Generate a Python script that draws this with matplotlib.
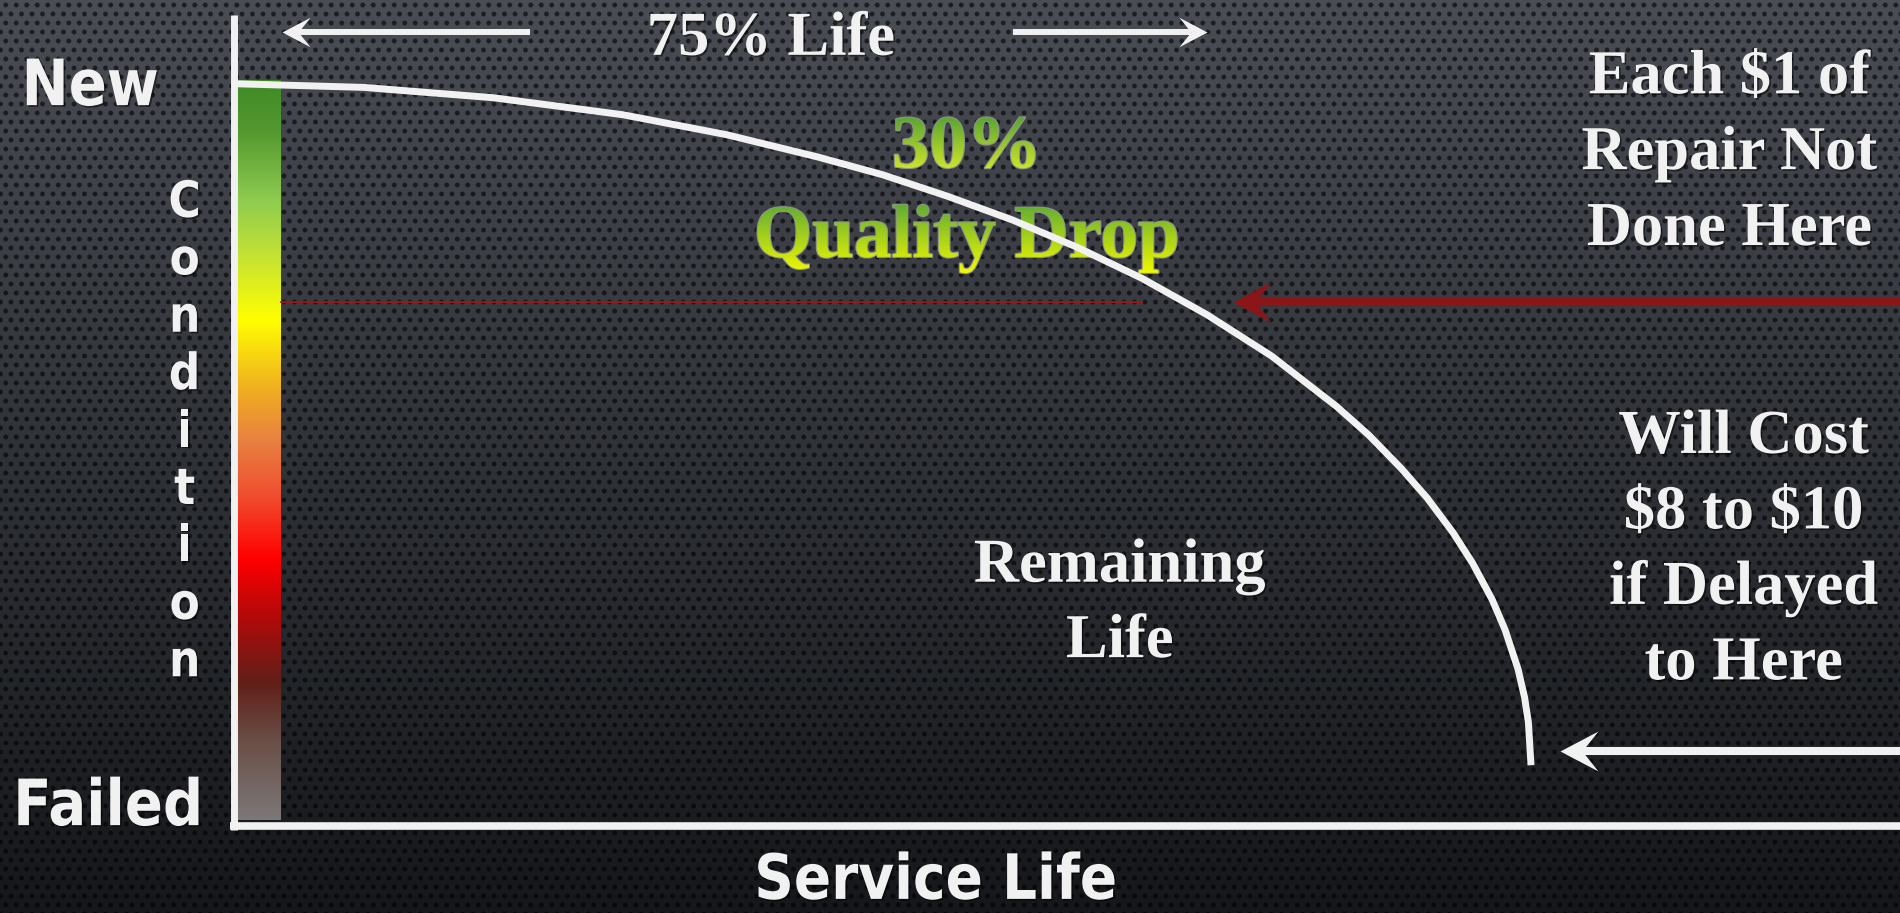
import numpy as np
import matplotlib
matplotlib.use("Agg")
import matplotlib.pyplot as plt
from matplotlib import patheffects
from matplotlib.path import Path
from matplotlib.transforms import Affine2D, TransformedPath
from matplotlib.colors import LinearSegmentedColormap, to_rgb

# Datos (vida en %, condición en %)
life = [0, 10, 20, 30, 38, 45, 50, 55, 60, 65, 70, 75, 80, 85, 87.5, 90, 92, 94,
        95.5, 97, 98, 99, 99.5, 99.8, 100]
cond = [99.5, 99.0, 97.6, 95.3, 92.6, 89.6, 87.2, 84.3, 81.1, 77.4, 73.2, 68.3,
        62.7, 55.9, 52.0, 47.5, 43.5, 38.8, 34.7, 29.8, 25.7, 20.4, 16.6, 13.2, 7.4]

life_mark = 75          # 75% Life
level_mark = 70         # 30% de caída -> condición 70
guide_end = 70          # fin de la línea fina roja
red_tip = 77            # punta de la flecha roja
late_tip = 102.2        # punta de la flecha blanca de abajo
late_level = 9.3
top_arrow_y = 106.5
top_left = (22.8, 3.7)  # (cola, punta)
top_right = (60.1, life_mark)

bar_x = (0.23, 3.62)
bar_y = (0, 100)
bar_stops = [(0.000, '#7c7878'), (0.103, '#6a5048'), (0.184, '#602018'),
             (0.272, '#b00a0a'), (0.353, '#ff0000'), (0.441, '#f05030'),
             (0.512, '#e88040'), (0.585, '#f0b020'), (0.677, '#ffff00'),
             (0.757, '#c8e430'), (0.838, '#8fcc50'), (0.928, '#569a30'),
             (1.000, '#3f8a26')]

right_top = [r"Each \$1 of", "Repair Not", "Done Here"]
right_bottom = ["Will Cost", r"\$8 to \$10", "if Delayed", "to Here"]
remaining = ["Remaining", "Life"]

XLIM = (-18.04, 128.45)
YLIM = (-12.57, 110.81)
WHITE = '#f1f1f1'
RED = '#8c1518'
SANS = 'DejaVu Sans'
SERIF = 'Liberation Serif'


class Squeeze(patheffects.AbstractPathEffect):
    """Estrecha el texto horizontalmente (con sombra opcional)."""
    def __init__(self, sx, offset=(0, 0), color=None, alpha=None):
        super().__init__(offset)
        self.sx = sx
        self.color = color
        self.alpha = alpha

    def draw_path(self, renderer, gc, tpath, affine, rgbFace=None):
        ext = tpath.get_extents(affine)
        cx = (ext.x0 + ext.x1) / 2
        aff = affine + Affine2D().translate(-cx, 0).scale(self.sx, 1).translate(cx, 0)
        aff = aff + self._offset_transform(renderer)
        gc0 = renderer.new_gc()
        gc0.copy_properties(gc)
        if self.color is not None:
            rgbFace = to_rgb(self.color)
        if self.alpha is not None:
            gc0.set_alpha(self.alpha)
        renderer.draw_path(gc0, tpath, aff, rgbFace)
        gc0.restore()


class GradientFill(patheffects.AbstractPathEffect):
    """Relleno degradado vertical, por línea de texto."""
    def __init__(self, top, bottom):
        super().__init__()
        self.top = np.array(to_rgb(top))
        self.bottom = np.array(to_rgb(bottom))

    def draw_path(self, renderer, gc, tpath, affine, rgbFace=None):
        ext = tpath.get_extents(affine)
        x0, y0 = int(np.floor(ext.x0)), int(np.floor(ext.y0))
        w = int(np.ceil(ext.x1)) - x0 + 1
        h = int(np.ceil(ext.y1)) - y0 + 1
        t = np.linspace(1, 0, h)[:, None, None]   # fila 0 = abajo
        img = np.ones((h, w, 4))
        img[..., :3] = self.top * (1 - t) + self.bottom * t
        img = np.ascontiguousarray((img * 255).astype(np.uint8))
        gc0 = renderer.new_gc()
        gc0.copy_properties(gc)
        gc0.set_clip_path(TransformedPath(tpath, affine))
        renderer.draw_image(gc0, x0, y0, img)
        gc0.restore()


def stealth(sign):
    v = np.array([[0, 0], [38, 20], [22, 0], [38, -20], [0, 0]], float)
    v[:, 0] *= sign
    return Path(v, [Path.MOVETO, Path.LINETO, Path.LINETO, Path.LINETO, Path.CLOSEPOLY])


fig = plt.figure(figsize=(19, 9.13), dpi=100)
ax = fig.add_axes([0, 0, 1, 1])
ax.set_xlim(*XLIM)
ax.set_ylim(*YLIM)
ax.axis('off')
px_x = 1900 / (XLIM[1] - XLIM[0])

# fondo con textura de puntos
H, W = 913, 1900
yy, xx = np.mgrid[0:H, 0:W].astype(float)
f = (yy / H)[..., None]
base = np.array(to_rgb('#4a4d54')) * (1 - f) + np.array(to_rgb('#15171a')) * f
row = np.floor(yy / 9.0)
dx = ((xx + (row % 2) * 5.25) % 10.5) - 5.25
dy = (yy % 9.0) - 4.5
dot = np.clip((3.0 - np.hypot(dx, dy)) / 1.2, 0, 1)[..., None]
bg = base * (1 - 0.6 * dot)
ax.imshow(bg, extent=(*XLIM, *YLIM), origin='upper', aspect='auto',
          interpolation='nearest', zorder=0)

# barra de condición
cmap = LinearSegmentedColormap.from_list('cond', bar_stops)
ax.imshow(np.linspace(0, 1, 256)[:, None], cmap=cmap, origin='lower', aspect='auto',
          extent=(*bar_x, *bar_y), interpolation='bilinear', zorder=1)

# ejes
ax.plot([0, 0], [-1.35, 108.8], color=WHITE, lw=5, solid_capstyle='butt', zorder=3)
ax.plot([-0.27, XLIM[1]], [-0.81, -0.81], color=WHITE, lw=5.5, solid_capstyle='butt', zorder=3)

# línea fina roja
ax.plot([bar_x[1], guide_end], [level_mark, level_mark], color='#a3161a', lw=1.3, zorder=2)


def arrow(x_tail, x_tip, y, color, lw, head):
    sign = 1 if x_tail > x_tip else -1
    notch = head * 22 / 38 / px_x * sign
    ax.plot([x_tail, x_tip + notch], [y, y], color=color, lw=lw,
            solid_capstyle='butt', zorder=5)
    ax.plot([x_tip], [y], marker=stealth(sign), ms=2 * head * 0.72,
            color=color, mew=0, zorder=5)


arrow(*top_left, top_arrow_y, WHITE, 4.3, 28)
arrow(*top_right, top_arrow_y, WHITE, 4.3, 28)
arrow(XLIM[1] + 1, red_tip, level_mark, RED, 5.8, 38)
arrow(XLIM[1] + 1, late_tip, late_level, WHITE, 5.8, 38)

# textos
serif_fx = [patheffects.SimplePatchShadow(offset=(1.2, -1.2), shadow_rgbFace='k', alpha=0.5),
            patheffects.Normal()]
ax.text(41.4, 103.4, "75% Life", family=SERIF, weight='bold', size=45, color=WHITE,
        ha='center', va='baseline', path_effects=serif_fx, zorder=6)

grad_lines = [("30%", 88.2, '#58a432', '#cde42a'),
              ("Quality Drop", 76.1, '#5eaa34', '#f4fa00')]
for s, y, c0, c1 in grad_lines:
    ax.text(56.5, y, s, family=SERIF, weight='bold', size=54, color='#a0cc40',
            ha='center', va='baseline', zorder=3,
            path_effects=[patheffects.Stroke(linewidth=1.6, foreground='#8c9488'),
                          GradientFill(c0, c1)])

for i, s in enumerate(right_top):
    ax.text(115.3, 98.2 - i * 10.25, s, family=SERIF, weight='bold', size=45,
            color=WHITE, ha='center', va='baseline', path_effects=serif_fx, zorder=6)
for i, s in enumerate(right_bottom):
    ax.text(116.4, 49.6 - i * 10.2, s, family=SERIF, weight='bold', size=45,
            color=WHITE, ha='center', va='baseline', path_effects=serif_fx, zorder=6)
for i, s in enumerate(remaining):
    ax.text(68.3, 32.2 - i * 10.2, s, family=SERIF, weight='bold', size=45,
            color=WHITE, ha='center', va='baseline', path_effects=serif_fx, zorder=6)

sans_fx = [Squeeze(0.88, offset=(1.2, -1.2), color='k', alpha=0.5), Squeeze(0.88)]
ax.text(-11.1, 96.6, "New", family=SANS, weight='bold', size=46, color=WHITE,
        ha='center', va='baseline', path_effects=sans_fx, zorder=6)
ax.text(-9.7, -0.7, "Failed", family=SANS, weight='bold', size=46, color=WHITE,
        ha='center', va='baseline', path_effects=sans_fx, zorder=6)
ax.text(54.1, YLIM[0] + 0.15, "Service Life", family=SANS, weight='bold', size=45,
        color=WHITE, ha='center', va='bottom', path_effects=sans_fx, zorder=6)
for i, ch in enumerate("Condition"):
    ax.text(-3.8, 81.5 - i * 7.76, ch, family=SANS, weight='bold', size=36, color=WHITE,
            ha='center', va='baseline', path_effects=sans_fx, zorder=6)

# curva de deterioro
ax.plot(life, cond, color=WHITE, lw=5, solid_capstyle='butt', zorder=4)

fig.savefig('out.png', dpi=100)
